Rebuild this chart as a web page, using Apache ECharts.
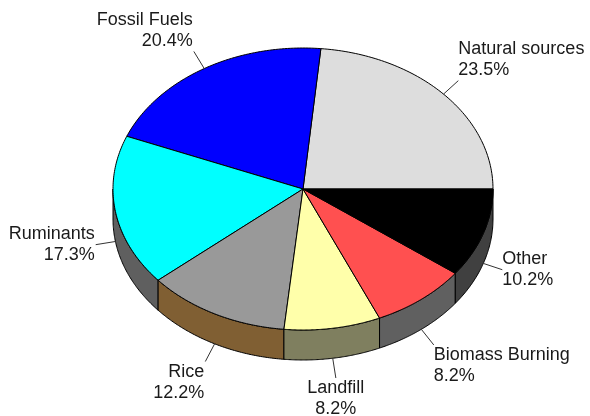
<!DOCTYPE html>
<html>
<head>
<meta charset="utf-8">
<script src="https://cdn.jsdelivr.net/npm/echarts@6/dist/echarts.min.js"></script>
<style>html,body{margin:0;padding:0;background:#fff}#c{width:590px;height:416px}</style>
</head>
<body>
<div id="c"></div>
<script>
const categories = ['Natural sources', 'Fossil Fuels', 'Ruminants', 'Rice', 'Landfill', 'Biomass Burning', 'Other'];
const values = [23.5, 20.4, 17.3, 12.2, 8.2, 8.2, 10.2];
const topColors = ['#dddddd', '#0000ff', '#00ffff', '#999999', '#ffffaa', '#ff5050', '#000000'];
const sideColors = ['#9a9a9a', '#000099', '#5f5f5f', '#805f33', '#7f7f5f', '#606060', '#404040'];

const total = values.reduce((a, b) => a + b, 0);
const starts = [];
values.reduce((acc, v) => { starts.push(acc); return acc + v; }, 0);
const seriesData = values.map((v, i) => ({ name: categories[i], value: [v, starts[i]] }));

const CX = 303, CY = 189, RX = 190, RY = 141, DEPTH = 30, LLEN = 20;

function renderItem(params, api) {
  const i = params.dataIndex;
  const v = api.value(0), st = api.value(1);
  const a0 = st / total * 2 * Math.PI, a1 = (st + v) / total * 2 * Math.PI;
  const pt = (a, dy) => [CX + RX * Math.cos(a), CY - RY * Math.sin(a) + (dy || 0)];
  const children = [];
  const n = 80;
  const s0 = Math.max(a0, Math.PI), s1 = Math.min(a1, 2 * Math.PI);
  if (s1 > s0) {
    const pts = [];
    for (let k = 0; k <= n; k++) pts.push(pt(s0 + (s1 - s0) * k / n));
    for (let k = n; k >= 0; k--) pts.push(pt(s0 + (s1 - s0) * k / n, DEPTH));
    children.push({ type: 'polygon', shape: { points: pts },
      style: { fill: sideColors[i], stroke: '#000', lineWidth: 1 } });
  }
  const tp = [[CX, CY]];
  for (let k = 0; k <= n; k++) tp.push(pt(a0 + (a1 - a0) * k / n));
  children.push({ type: 'polygon', shape: { points: tp },
    style: { fill: topColors[i], stroke: '#000', lineWidth: 1 } });
  const m = (a0 + a1) / 2;
  const c = Math.cos(m), s = Math.sin(m);
  const p = pt(m, s < 0 ? DEPTH : 0);
  const e = [p[0] + LLEN * c, p[1] - LLEN * s];
  children.push({ type: 'line', shape: { x1: p[0], y1: p[1], x2: e[0], y2: e[1] },
    style: { stroke: '#333', lineWidth: 1 } });
  const align = c > 0.3 ? 'left' : (c < -0.3 ? 'right' : 'center');
  const vAlign = s > 0.5 ? 'bottom' : (s < -0.5 ? 'top' : 'middle');
  children.push({ type: 'text', x: e[0] + (align === 'left' ? 0 : (align === 'right' ? -1 : 0)), y: e[1],
    style: { text: categories[i] + '\n' + v.toFixed(1) + '%', align: align, verticalAlign: vAlign,
      font: '18px "Liberation Sans", Arial, sans-serif', fill: '#1a1a1a', lineHeight: 21 } });
  return { type: 'group', children: children };
}

const chart = echarts.init(document.getElementById('c'), null, { renderer: 'canvas' });
chart.setOption({
  animation: false,
  backgroundColor: '#ffffff',
  series: [{
    type: 'custom',
    coordinateSystem: 'none',
    renderItem: renderItem,
    data: seriesData
  }]
});
</script>
</body>
</html>
